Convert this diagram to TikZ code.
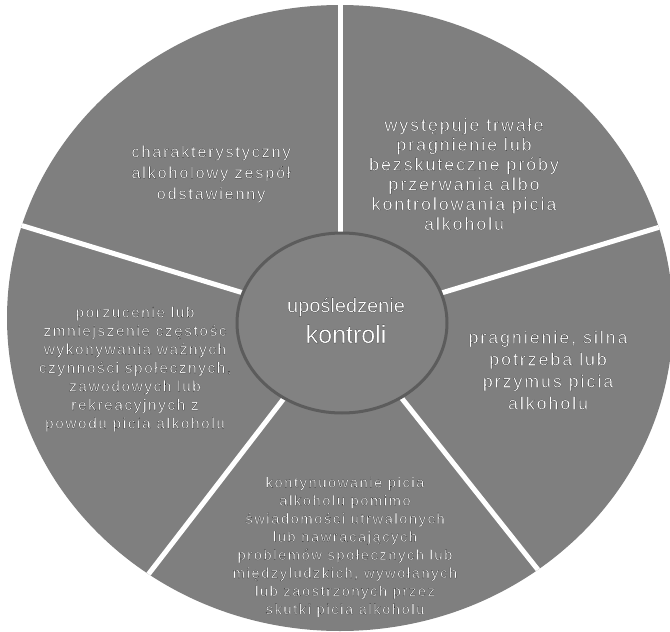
\documentclass[tikz,border=0pt]{standalone}
\usepackage{fontspec}
\usetikzlibrary{shapes.geometric}
\setmainfont{Liberation Sans}
\newfontfamily\lbl[LetterSpace=11]{Liberation Sans}
\newcommand\outlinetext{\special{pdf:literal direct 0.1 G 0.17 w 2 Tr}}
\definecolor{piegray}{HTML}{7F7F7F}
\definecolor{hubgray}{HTML}{828282}
\definecolor{hubline}{HTML}{5C5C5C}
\tikzset{
  sector text/.style={text=white, align=center, inner sep=0pt},
  separator/.style={white, line width=5pt},
}
\begin{document}
\begin{tikzpicture}[x=1pt,y=-1pt]
\useasboundingbox (0,0) rectangle (670,632);
% outer disc
\fill[piegray] (340,318) ellipse [x radius=333, y radius=313];
% separators
\coordinate (hub) at (342,323);
\coordinate (s1) at (340,-40);
\coordinate (s2) at (819,179);
\coordinate (s3) at (643,702);
\coordinate (s4) at (50,702);
\coordinate (s5) at (-141,176);
\begin{scope}
  \clip (340,318) ellipse [x radius=333, y radius=313];
  \draw[separator] (340,323) -- (s1);
  \draw[separator] (hub) -- (s2);
  \draw[separator] (hub) -- (s3);
  \draw[separator] (hub) -- (s4);
  \draw[separator] (hub) -- (s5);
\end{scope}
% hub
\node[ellipse, draw=hubline, fill=hubgray, line width=3pt, minimum width=210pt, minimum height=180pt, inner sep=0pt] (center) at (hub) {};
\node[sector text, font=\fontsize{20}{24}\selectfont] (t0) at (346,307) {\outlinetext upośledzenie};
\node[sector text, font=\fontsize{25}{28}\selectfont] (t00) at (346,334) {\outlinetext kontroli};
% sector texts
\node[sector text, font=\lbl\fontsize{16.3}{21}\selectfont] (t1) at (211,174)
  {\outlinetext charakterystyczny\\alkoholowy zespół\\odstawienny};
\node[sector text, font=\lbl\fontsize{17.8}{19.8}\selectfont] (t2) at (464,174)
  {\outlinetext występuje trwałe\\pragnienie lub\\bezskuteczne próby\\przerwania albo\\kontrolowania picia\\alkoholu};
\node[sector text, font=\lbl\fontsize{17.8}{22}\selectfont] (t3) at (548,370)
  {\outlinetext pragnienie, silna\\potrzeba lub\\przymus picia\\alkoholu};
\node[sector text, font=\lbl\fontsize{14.6}{18.1}\selectfont] (t4) at (345,547)
  {\outlinetext kontynuowanie picia\\alkoholu pomimo\\świadomości utrwalonych\\lub nawracających\\problemów społecznych lub\\międzyludzkich, wywołanych\\lub zaostrzonych przez\\skutki picia alkoholu};
\node[sector text, font=\lbl\fontsize{15.2}{18.5}\selectfont] (t5) at (135,369)
  {\outlinetext porzucenie lub\\zmniejszenie częstośc\\wykonywania ważnych\\czynności społecznych,\\zawodowych lub\\rekreacyjnych z\\powodu picia alkoholu};
\end{tikzpicture}
\end{document}
